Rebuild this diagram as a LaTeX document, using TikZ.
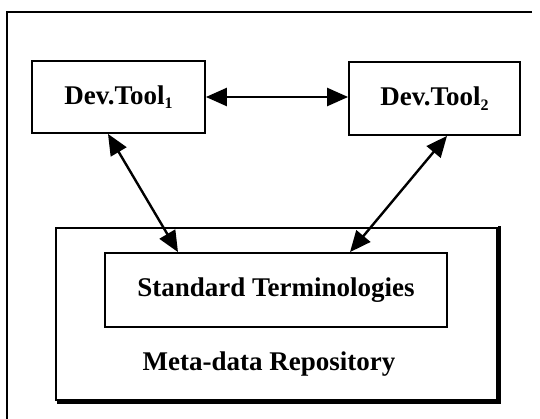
\documentclass[tikz,border=0pt]{standalone}
\usepackage{fontspec}
\setmainfont{Liberation Serif}
\usetikzlibrary{arrows.meta}
\newcommand{\subidx}[1]{\raisebox{-4.5pt}{\fontsize{16}{16}\selectfont #1}}
\tikzset{
  box/.style={draw, line width=1.8pt, rectangle, inner sep=0pt, font=\fontsize{27}{30}\selectfont\bfseries},
  lbl/.style={inner sep=0pt, font=\fontsize{27}{30}\selectfont\bfseries},
  dbl/.style={line width=2.4pt, {Triangle[length=21pt,width=18pt]}-{Triangle[length=21pt,width=18pt]}},
  frame/.style={line width=2pt}
}
\begin{document}
\begin{tikzpicture}[x=1pt,y=-1pt]
\useasboundingbox (0,0) rectangle (540,418);
\fill[white] (0,0) rectangle (540,418);
% outer (cropped) frame
\coordinate (ftr) at (532,12);
\coordinate (ftl) at (7,12);
\coordinate (fbl) at (7,420);
\draw[frame] (ftr) -- (ftl) -- (fbl);
% repository box
\node[box, minimum width=441pt, minimum height=172pt] (repo) at (276.5,314) {};
\draw[line width=3pt] ([xshift=1.5pt,yshift=1pt]repo.north east) -- ([xshift=1.5pt,yshift=-1.5pt]repo.south east) -- ([xshift=2pt,yshift=-1.5pt]repo.south west);
\node[lbl] (repolbl) at (269,364) {Meta-data Repository};
% standard terminologies
\node[box, minimum width=342pt, minimum height=74pt, fill=white] (std) at (276,290) {Standard Terminologies};
% tools
\node[box, minimum width=173pt, minimum height=72pt] (tool1) at (118.5,97) {Dev.Tool\subidx{1}};
\node[box, minimum width=171pt, minimum height=73pt] (tool2) at (434.5,98.5) {Dev.Tool\subidx{2}};
% connectors
\draw[dbl] (tool1.east) -- (tool2.west |- tool1.east);
\draw[dbl] ([xshift=-10.5pt]tool1.south) -- ([xshift=-98pt]std.north);
\draw[dbl] ([xshift=12.5pt]tool2.south) -- ([xshift=74pt]std.north);
\end{tikzpicture}
\end{document}
